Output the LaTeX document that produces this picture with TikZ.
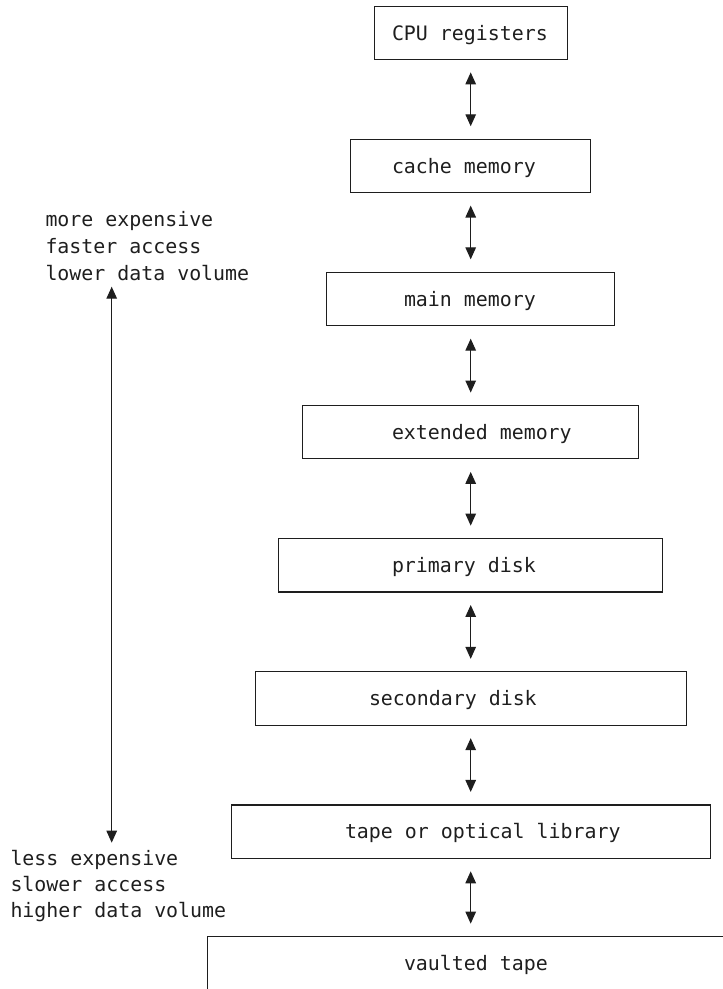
\documentclass[tikz,border=0pt]{standalone}
\usepackage{fontspec}
\setmonofont{DejaVu Sans Mono}
\usetikzlibrary{arrows.meta}
\definecolor{ink}{HTML}{1E1E1E}
\begin{document}
\begin{tikzpicture}[x=1pt,y=-1pt,
  level/.style={draw=ink, line width=1.1pt, rectangle, inner sep=0pt, outer sep=0pt,
                minimum height=53.3pt},
  txt/.style={anchor=base west, inner sep=0pt, outer sep=0pt, text=ink,
              font=\ttfamily\fontsize{19.9pt}{26.7pt}\selectfont},
  link/.style={draw=ink, line width=1.2pt,
               {Triangle[length=12pt,width=10.5pt]}-{Triangle[length=12pt,width=10.5pt]}},
  gap/.style={shorten <=13pt, shorten >=13pt}]
  \useasboundingbox (0,0) rectangle (723,989);
  \clip (0,0) rectangle (723,989);

  % storage levels, widening towards the bottom
  \node[level, minimum width=193pt] (cpu)  at (470.7, 32.7) {};
  \node[level, minimum width=240pt] (cache) at (470.7,165.9) {};
  \node[level, minimum width=288pt] (main) at (470.7,299.0) {};
  \node[level, minimum width=336pt] (ext)  at (470.7,432.2) {};
  \node[level, minimum width=384pt] (pri)  at (470.7,565.3) {};
  \node[level, minimum width=431pt] (sec)  at (470.7,698.5) {};
  \node[level, minimum width=479pt] (tape) at (470.7,831.6) {};
  \node[level, minimum width=527pt] (vault) at (470.7,963.3) {};

  % level captions
  \node[txt] (tcpu)   at (392,40.0)  {CPU registers};
  \node[txt] (tcache) at (392,173.2) {cache memory};
  \node[txt] (tmain)  at (404,306.3) {main memory};
  \node[txt] (text)   at (392,439.5) {extended memory};
  \node[txt] (tpri)   at (392,572.6) {primary disk};
  \node[txt] (tsec)   at (369,705.8) {secondary disk};
  \node[txt] (ttape)  at (345,838.9) {tape or optical library};
  \node[txt] (tvault) at (404,970.6) {vaulted tape};

  % transfers between neighbouring levels
  \draw[link, gap] (cpu) -- (cache);
  \draw[link, gap] (cache) -- (main);
  \draw[link, gap] (main) -- (ext);
  \draw[link, gap] (ext) -- (pri);
  \draw[link, gap] (pri) -- (sec);
  \draw[link, gap] (sec) -- (tape);
  \draw[link, gap] (tape) -- (vault);

  % cost / speed / volume scale
  \node[txt] (up1) at (45.5,226.0) {more expensive};
  \node[txt] (up2) at (45.5,253.3) {faster access};
  \node[txt] (up3) at (45.5,280.0) {lower data volume};
  \node[txt] (dn1) at (10.5,865.0) {less expensive};
  \node[txt] (dn2) at (10.5,891.7) {slower access};
  \node[txt] (dn3) at (10.5,917.7) {higher data volume};
  \coordinate (top) at (111.7,286.7);
  \coordinate (bot) at (111.7,842.7);
  \draw[link] (top) -- (bot);
\end{tikzpicture}
\end{document}
